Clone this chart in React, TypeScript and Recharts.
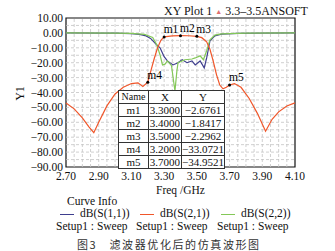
import { LineChart, Line, XAxis, YAxis, ReferenceLine, ReferenceDot, ReferenceArea } from 'recharts';

const xTicks = [2.7, 2.9, 3.1, 3.3, 3.5, 3.7, 3.9, 4.1];
const yTicks = [10, 0, -10, -20, -30, -40, -50, -60, -70, -80, -90];
const gridX = [2.75, 2.8, 2.85, 2.9, 2.95, 3.0, 3.05, 3.1, 3.15, 3.2, 3.25, 3.3, 3.35, 3.4, 3.45, 3.5, 3.55, 3.6, 3.65, 3.7, 3.75, 3.8, 3.85, 3.9, 3.95, 4.0, 4.05];
const gridY = [5, 0, -5, -10, -15, -20, -25, -30, -35, -40, -45, -50, -55, -60, -65, -70, -75, -80, -85];

// S21
const s21Freq = [2.7, 2.75, 2.8, 2.84, 2.87, 2.9, 2.95, 3.0, 3.05, 3.1, 3.14, 3.17, 3.2, 3.22, 3.24, 3.26, 3.28, 3.3, 3.35, 3.4, 3.45, 3.5, 3.53, 3.56, 3.58, 3.6, 3.62, 3.64, 3.66, 3.68, 3.7, 3.73, 3.77, 3.82, 3.87, 3.92, 3.96, 4.0, 4.05, 4.1];
const s21 = [-47, -51, -57, -63, -67, -60, -49, -41, -36.5, -34, -33.5, -36, -33.07, -25, -17, -10, -5, -2.68, -2.0, -1.84, -1.9, -2.3, -3.2, -6, -11, -19, -28, -35, -37.5, -36.5, -34.95, -34, -36.5, -44, -54, -66, -58, -53, -49, -47];

// S11
const s11Freq = [2.7, 2.9, 3.0, 3.1, 3.15, 3.19, 3.22, 3.25, 3.275, 3.3, 3.32, 3.354, 3.385, 3.41, 3.44, 3.47, 3.49, 3.52, 3.545, 3.56, 3.58, 3.61, 3.65, 3.75, 3.9, 4.1];
const s11 = [-0.05, -0.1, -0.2, -0.5, -1.0, -2, -4, -7.5, -10, -16, -18.8, -21.5, -20, -18, -20, -18.8, -21.5, -18.8, -23.5, -16.8, -5.4, -2, -0.8, -0.3, -0.1, -0.05];

// S22
const s22Freq = [2.7, 3.0, 3.1, 3.18, 3.23, 3.255, 3.275, 3.29, 3.305, 3.32, 3.345, 3.366, 3.378, 3.385, 3.427, 3.47, 3.49, 3.52, 3.54, 3.56, 3.58, 3.61, 3.65, 3.8, 4.1];
const s22 = [0, -0.1, -0.3, -1, -3, -8, -14.8, -21.5, -21, -18.8, -22, -39, -25.5, -20, -18, -17.5, -16.8, -15.4, -18, -12, -4.7, -1.5, -0.6, -0.2, 0];

const markerNames = ['m1', 'm2', 'm3', 'm4', 'm5'];
const markerX = [3.3, 3.4, 3.5, 3.2, 3.7];
const markerY = [-2.6761, -1.8417, -2.2962, -33.0721, -34.9521];

const toRows = (f: number[], v: number[]) => f.map((x, i) => ({ f: x, v: v[i] }));
const fmt = (n: number) => (n < 0 ? '\u2212' + Math.abs(n).toFixed(2) : n.toFixed(2));
const fmt4 = (n: number) => (n < 0 ? '\u2212' + Math.abs(n).toFixed(4) : n.toFixed(4));

const serif = 'Liberation Serif, DejaVu Serif, serif';
const BLUE = '#3e3e8e';
const RED = '#f0562a';
const GREEN = '#84c858';

function MarkLabel(props: any) {
  const { viewBox, value } = props;
  return (
    <text x={viewBox.x + 1} y={viewBox.y - 2} fontSize={11.5} fontFamily="Liberation Serif" fill="#000">
      {value}
    </text>
  );
}

function XTick(props: any) {
  const { x, y, payload } = props;
  return (
    <text x={x} y={y + 13} textAnchor="middle" fontSize={11.5} fontFamily="Liberation Serif" fill="#111">
      {payload.value.toFixed(2)}
    </text>
  );
}

function YTick(props: any) {
  const { x, y, payload } = props;
  return (
    <text x={x} y={y + 4} textAnchor="end" fontSize={11.5} fontFamily="Liberation Serif" fill="#111">
      {fmt(payload.value)}
    </text>
  );
}

export default function App() {
  const cell: React.CSSProperties = { border: '1px solid #333', padding: 0, height: 12, lineHeight: '12px' };
  return (
    <div style={{ position: 'absolute', left: 0, top: 0, width: 335, height: 251, background: '#fff', fontFamily: serif, overflow: 'hidden' }}>
      <LineChart width={335} height={251} data={[]} margin={{ top: 18, right: 40, left: 0, bottom: 64 }}>
        <XAxis type="number" dataKey="f" domain={[2.7, 4.1]} ticks={xTicks}
          allowDuplicatedCategory={false} tickSize={0} tickMargin={0} height={20} axisLine={false}
          tick={<XTick />} interval={0} />
        <YAxis type="number" domain={[-90, 10]} ticks={yTicks} width={66} tickSize={0} tickMargin={3}
          axisLine={false} interval={0} tick={<YTick />} />
        {gridX.map((g) => (
          <ReferenceLine key={'gx' + g} x={g} stroke="#c4c4c4" strokeDasharray="3 2" strokeWidth={0.8} />
        ))}
        {gridY.map((g) => (
          <ReferenceLine key={'gy' + g} y={g} stroke="#c4c4c4" strokeDasharray="3 2" strokeWidth={0.8} />
        ))}
        <ReferenceArea x1={2.7} x2={4.1} y1={-90} y2={10} fill="none" stroke="#111" strokeWidth={1.2} />
        <Line data={toRows(s11Freq, s11)} dataKey="v" stroke={BLUE} strokeWidth={1.2} dot={false} isAnimationActive={false} type="linear" />
        <Line data={toRows(s22Freq, s22)} dataKey="v" stroke={GREEN} strokeWidth={1.2} dot={false} isAnimationActive={false} type="linear" />
        <Line data={toRows(s21Freq, s21)} dataKey="v" stroke={RED} strokeWidth={1.2} dot={false} isAnimationActive={false} type="linear" />
        {markerNames.map((m, i) => (
          <ReferenceDot key={m} x={markerX[i]} y={markerY[i]} r={1.5} fill="#000" stroke="none"
            label={<MarkLabel value={m} />} />
        ))}
      </LineChart>

      {/* title */}
      <div style={{ position: 'absolute', left: 164, top: 4, fontSize: 12, whiteSpace: 'nowrap', color: '#111' }}>
        XY Plot 1 <span style={{ color: '#e07070', fontSize: 7, verticalAlign: 'middle' }}>&#9650;</span> 3.3&ndash;3.5ANSOFT
      </div>

      {/* axis titles */}
      <div style={{ position: 'absolute', left: 13, top: 86, fontSize: 12, transform: 'rotate(-90deg)', color: '#111' }}>Y1</div>
      <div style={{ position: 'absolute', left: 156, top: 184, fontSize: 11.5, color: '#111', whiteSpace: 'nowrap' }}>Freq /GHz</div>

      {/* marker table */}
      <table style={{ position: 'absolute', left: 118, top: 90, width: 107, height: 77, borderCollapse: 'collapse', background: '#fff',
        fontSize: 11, textAlign: 'center', border: '1.5px solid #222', color: '#111' }}>
        <tbody>
          <tr>
            <td style={{ ...cell, width: 31, fontSize: 10 }}>Name</td>
            <td style={{ ...cell, width: 33 }}>X</td>
            <td style={{ ...cell }}>Y</td>
          </tr>
          {markerNames.map((m, i) => (
            <tr key={m}>
              <td style={cell}>{m}</td>
              <td style={cell}>{markerX[i].toFixed(4)}</td>
              <td style={cell}>{fmt4(markerY[i])}</td>
            </tr>
          ))}
        </tbody>
      </table>

      {/* legend */}
      <div style={{ position: 'absolute', left: 67, top: 195, fontSize: 11.5, color: '#111' }}>Curve Info</div>
      {[
        { c: BLUE, t: 'dB(S(1,1))', x: 56 },
        { c: RED, t: 'dB(S(2,1))', x: 136 },
        { c: GREEN, t: 'dB(S(2,2))', x: 217 },
      ].map((l) => (
        <div key={l.t} style={{ position: 'absolute', left: l.x, top: 207, fontSize: 11.5, color: '#111', whiteSpace: 'nowrap', lineHeight: '13px' }}>
          <div>
            <span style={{ display: 'inline-block', width: 14, height: 0, borderTop: `1.2px solid ${l.c}`, verticalAlign: 'middle', margin: '0 6px 0 4px' }} />
            {l.t}
          </div>
          <div>Setup1 : Sweep</div>
        </div>
      ))}

      {/* caption */}
      <div style={{ position: 'absolute', left: 77, top: 236, fontSize: 11, color: '#333', whiteSpace: 'nowrap', letterSpacing: 1.6,
        fontFamily: '"Noto Sans CJK SC", sans-serif' }}>
        图3&nbsp;&nbsp;&nbsp;滤波器优化后的仿真波形图
      </div>
    </div>
  );
}
